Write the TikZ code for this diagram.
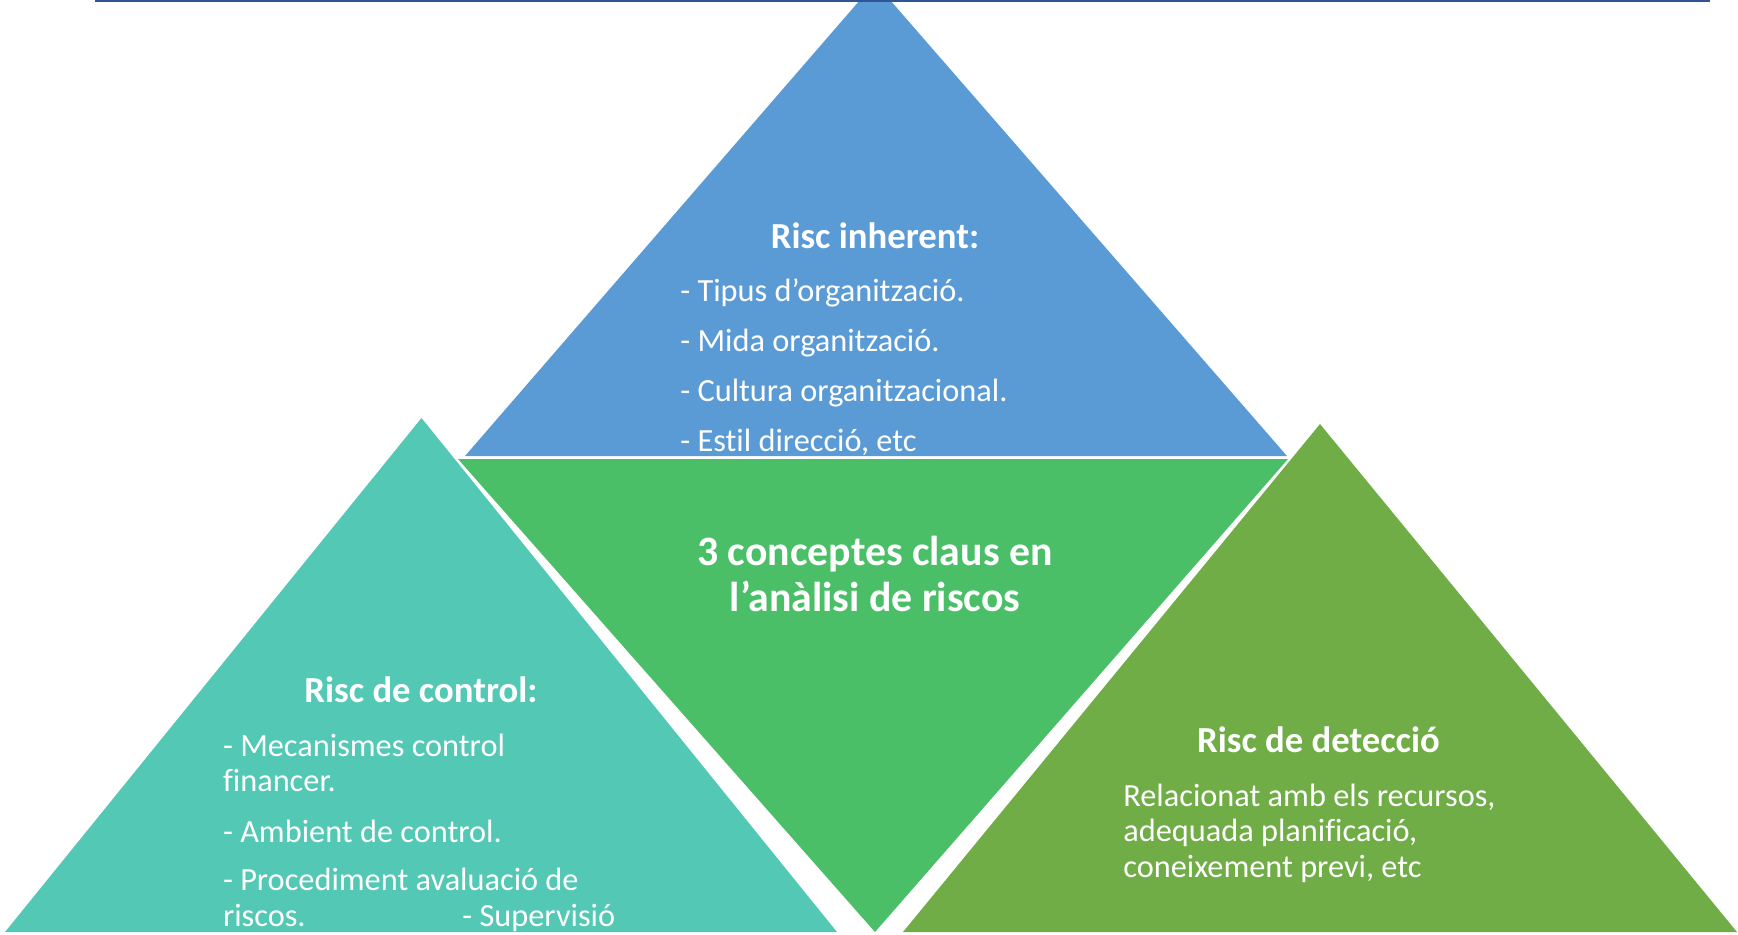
\documentclass[tikz,border=0pt]{standalone}
\usepackage{fontspec}
\setmainfont{Carlito}[Ligatures=NoCommon]
\usepackage{tikz}

\definecolor{inhblue}{HTML}{5B9BD5}
\definecolor{ctlteal}{HTML}{53C9B5}
\definecolor{midgreen}{HTML}{4ABF67}
\definecolor{detgreen}{HTML}{70AD47}
\definecolor{topline}{HTML}{2F5597}

\tikzset{
  head/.style={text=white, inner sep=0pt, anchor=base, font=\bfseries\fontsize{20.9}{25}\selectfont},
  mid/.style={text=white, inner sep=0pt, anchor=base, font=\bfseries\fontsize{23.8}{28}\selectfont},
  item/.style={text=white, inner sep=0pt, anchor=base west, font=\fontsize{18.4}{22}\selectfont},
}

\begin{document}
\begin{tikzpicture}[x=0.02cm, y=-0.02cm]
      \useasboundingbox (0,0) rectangle (1738,934);
      % Define triangles
      \fill[inhblue]  (465,456) -- (860,0) -- (890,0) -- (1287,456) -- cycle;
      \fill[midgreen] (458,459) -- (1288,459) -- (875,932) -- cycle;
      \fill[ctlteal]  (5,932) -- (421.5,418) -- (837,932) -- cycle;
      \fill[detgreen] (903,932) -- (1320,424) -- (1737,932) -- cycle;
      \draw[topline, line width=1.2pt] (95,1) -- (1710,1);
      % Risc inherent
      \node[head] (inh) at (875,248) {Risc inherent:};
      \node[item] (inh1) at (680,301.7) {- Tipus d’organització.};
      \node[item] (inh2) at (680,351.7) {- Mida organització.};
      \node[item] (inh3) at (680,401.7) {- Cultura organitzacional.};
      \node[item] (inh4) at (680,451.7) {- Estil direcció, etc};
      % Centre
      \node[mid] (key1) at (875,565) {3 conceptes claus en};
      \node[mid] (key2) at (875,611.7) {l’anàlisi de riscos};
      % Risc de control
      \node[head] (ctl) at (421,702.7) {Risc de control:};
      \node[item] (ctl1) at (222.7,756) {- Mecanismes control};
      \node[item] (ctl2) at (222.7,791.7) {financer.};
      \node[item] (ctl3) at (222.7,842) {- Ambient de control.};
      \node[item] (ctl4) at (222.7,890) {- Procediment avaluació de};
      \node[item] (ctl5) at (222.7,926.7) {riscos.};
      \node[item] (ctl6) at (462,926.7) {- Supervisió};
      % Risc de deteccio
      \node[head] (det) at (1318.5,752.7) {Risc de detecció};
      \node[item] (det1) at (1123,806.7) {Relacionat amb els recursos,};
      \node[item] (det2) at (1123,841.7) {adequada planificació,};
      \node[item] (det3) at (1123,877) {coneixement previ, etc};
    \end{tikzpicture}
\end{document}
